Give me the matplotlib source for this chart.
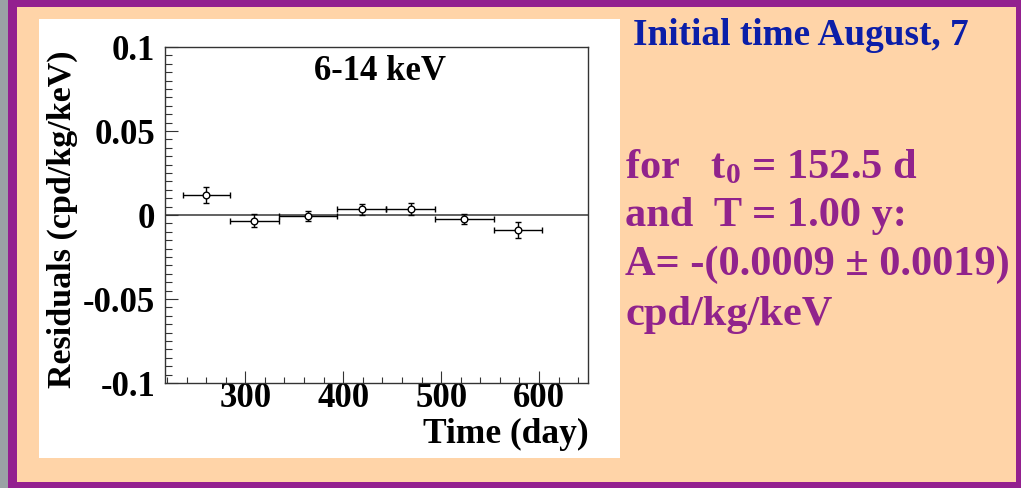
import matplotlib
matplotlib.use("Agg")
import matplotlib.pyplot as plt
from matplotlib.patches import Rectangle
import numpy as np

# ---- data ----
time_day = np.array([260, 309, 364, 419, 469, 523, 578])
residuals = np.array([0.0120, -0.0034, -0.0006, 0.0034, 0.0036, -0.0024, -0.0091])
res_err = np.array([0.0048, 0.0040, 0.0030, 0.0033, 0.0035, 0.0032, 0.0047])
bin_low = np.array([236, 284, 334, 394, 444, 494, 554])
bin_high = np.array([284, 334, 394, 444, 494, 554, 603])
yticks = [-0.1, -0.05, 0, 0.05, 0.1]
ytick_labels = ["-0.1", "-0.05", "0", "0.05", "0.1"]
xticks = [300, 400, 500, 600]
xtick_labels = ["300", "400", "500", "600"]
panel_label = "6-14 keV"
header = "Initial time August, 7"
fit_lines = ["for   t$_0$ = 152.5 d", "and  T = 1.00 y:", "A= -(0.0009 \u00b1 0.0019)", "cpd/kg/keV"]

plt.rcParams['font.family'] = ['Liberation Serif', 'DejaVu Serif']
plt.rcParams['font.weight'] = 'bold'
plt.rcParams['mathtext.default'] = 'regular'

W, H = 1021, 488
fig = plt.figure(figsize=(W / 100, H / 100), dpi=100, facecolor='#9aa2a5')

def fx(px):
    return px / W

def fy(py):
    return 1 - py / H

def frect(x0, y0, x1, y1, color):
    fig.patches.append(Rectangle((fx(x0), fy(y1)), fx(x1) - fx(x0), fy(y0) - fy(y1),
                                 transform=fig.transFigure, facecolor=color,
                                 edgecolor='none', zorder=-10))

frect(8, 0, W, H, '#93208f')
frect(17, 7, 1015.5, 481.5, '#ffd4a8')
frect(39, 19, 620, 458, 'white')

# axes
ax_l, ax_r, ax_t, ax_b = 165, 588, 47, 383
ax = fig.add_axes([fx(ax_l), fy(ax_b), fx(ax_r) - fx(ax_l), fy(ax_t) - fy(ax_b)])
ax.set_facecolor('white')
ax.set_xlim(218, 650)
ax.set_ylim(-0.1, 0.1)

ax.axhline(0, color='#555555', lw=1.3, zorder=1)
ax.errorbar(time_day, residuals,
            xerr=[time_day - bin_low, bin_high - time_day], yerr=res_err,
            fmt='o', ms=4.8, mfc='white', mec='black', mew=1.0,
            ecolor='black', elinewidth=1.0, capsize=2.3, capthick=1.0, zorder=3)

ax.set_yticks(yticks)
ax.set_yticklabels(ytick_labels)
ax.set_xticks(xticks)
ax.set_xticklabels(xtick_labels)
ax.set_yticks(np.arange(-0.1, 0.1001, 0.005), minor=True)
ax.set_xticks(np.arange(220, 650, 20), minor=True)

for s in ax.spines.values():
    s.set_color('#333333')
    s.set_linewidth(1.0)

ax.tick_params(axis='y', which='major', direction='in', length=9.4, width=0.8,
               color='#333333', labelsize=25, pad=7, right=False)
ax.tick_params(axis='y', which='minor', direction='in', length=5, width=0.8,
               color='#333333', right=False)
ax.tick_params(axis='x', which='major', direction='in', length=8.6, width=0.8,
               color='#333333', labelsize=25, pad=-0.5, top=False)
ax.tick_params(axis='x', which='minor', direction='in', length=4.3, width=0.8,
               color='#333333', top=False)
for lab in ax.get_xticklabels() + ax.get_yticklabels():
    lab.set_fontweight('bold')

ax.set_ylabel("Residuals (cpd/kg/keV)", fontsize=24.5, fontweight='bold')
ax.yaxis.set_label_coords(-0.205, 0.488)
ax.set_xlabel("Time (day)", fontsize=25.5, fontweight='bold', ha='right')
ax.xaxis.set_label_coords(1.002, -0.104)

ax.text(0.508, 0.902, panel_label, transform=ax.transAxes, ha='center',
        va='baseline', fontsize=25, fontweight='bold')

fig.text(fx(633), fy(45), header, color='#0b1ea8', fontsize=26.8,
         fontweight='bold', ha='left', va='baseline')

baselines = [178, 226, 275, 325]
for line, b in zip(fit_lines, baselines):
    fig.text(fx(625), fy(b), line, color='#91238c', fontsize=30.5,
             fontweight='bold', ha='left', va='baseline')

fig.savefig('out.png', dpi=100, facecolor=fig.get_facecolor())
